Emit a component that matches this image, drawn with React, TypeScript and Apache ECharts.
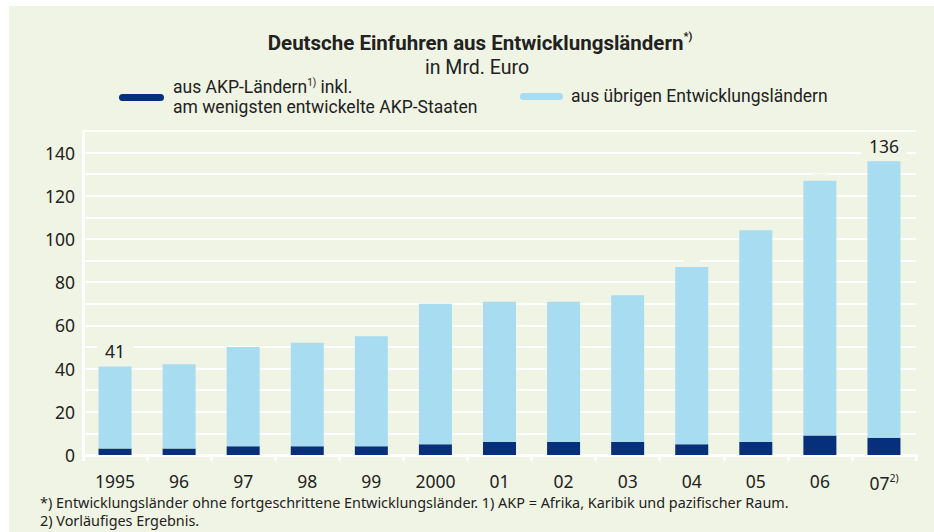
import React, { useEffect, useRef } from 'react';
import * as echarts from 'echarts';

const categories = ['1995', '96', '97', '98', '99', '2000', '01', '02', '03', '04', '05', '06', '07'];
const akpValues = [3, 3, 4, 4, 4, 5, 6, 6, 6, 5, 6, 9, 8];
const otherValues = [38, 39, 46, 48, 51, 65, 65, 65, 68, 82, 98, 118, 128];
const totalLabels: (number | null)[] = [41, null, null, null, null, null, null, null, null, null, null, null, 136];
const yTicks = [0, 20, 40, 60, 80, 100, 120, 140];

const BG = '#f0f4e4';
const DARK = '#06307c';
const LIGHT = '#a8dcf0';
const TEXT = '#222222';
const SANS = "'Noto Sans', 'Open Sans', sans-serif";
const COND = "Roboto, 'Noto Sans', sans-serif";

export default function App() {
  const ref = useRef<HTMLDivElement>(null);
  useEffect(() => {
    document.body.style.margin = '0';
    if (!ref.current) return;
    const chart = echarts.init(ref.current, undefined, { renderer: 'svg' });
    chart.setOption({
      animation: false,
      backgroundColor: '#ffffff',
      textStyle: { fontFamily: SANS },
      grid: { left: 83, right: 18, top: 131, bottom: 77 },
      graphic: [
        { type: 'rect', z: -10, silent: true, shape: { x: 9, y: 6, width: 925, height: 526 }, style: { fill: BG } },
        {
          type: 'text', x: 480, y: 43,
          style: {
            text: '{t|Deutsche Einfuhren aus Entwicklungsländern}{s|*)}',
            align: 'center', verticalAlign: 'middle',
            rich: {
              t: { fontFamily: COND, fontWeight: 'bold', fontSize: 20.5, fill: TEXT },
              s: { fontFamily: COND, fontWeight: 'bold', fontSize: 11, fill: TEXT, padding: [0, 0, 13, 0] },
            },
          },
        },
        {
          type: 'text', x: 477, y: 67,
          style: { text: 'in Mrd. Euro', align: 'center', verticalAlign: 'middle', fontFamily: COND, fontSize: 19.5, fill: TEXT },
        },
        { type: 'rect', shape: { x: 119, y: 94, width: 45, height: 7, r: 3.5 }, style: { fill: DARK } },
        {
          type: 'text', x: 173, y: 87,
          style: {
            text: '{t|aus AKP-Ländern}{s|1)}{t| inkl.}',
            verticalAlign: 'middle',
            rich: {
              t: { fontFamily: COND, fontSize: 17.5, fill: TEXT },
              s: { fontFamily: COND, fontSize: 10, fill: TEXT, padding: [0, 0, 10, 0] },
            },
          },
        },
        {
          type: 'text', x: 173, y: 107,
          style: { text: 'am wenigsten entwickelte AKP-Staaten', verticalAlign: 'middle', fontFamily: COND, fontSize: 17.5, fill: TEXT },
        },
        { type: 'rect', shape: { x: 520, y: 93, width: 43, height: 7, r: 3.5 }, style: { fill: LIGHT } },
        {
          type: 'text', x: 571, y: 96,
          style: { text: 'aus übrigen Entwicklungsländern', verticalAlign: 'middle', fontFamily: COND, fontSize: 17.5, fill: TEXT },
        },
        {
          type: 'text', x: 40, y: 502,
          style: {
            text: '*) Entwicklungsländer ohne fortgeschrittene Entwicklungsländer. 1) AKP = Afrika, Karibik und pazifischer Raum.',
            verticalAlign: 'middle', fontFamily: SANS, fontSize: 14.4, fill: TEXT,
          },
        },
        {
          type: 'text', x: 40, y: 520,
          style: { text: '2) Vorläufiges Ergebnis.', verticalAlign: 'middle', fontFamily: SANS, fontSize: 14.4, fill: TEXT },
        },
      ],
      xAxis: {
        type: 'category',
        data: categories,
        axisLine: { lineStyle: { color: '#ffffff', width: 3 } },
        axisTick: { show: true, interval: 0, length: 6, lineStyle: { color: '#ffffff', width: 3 } },
        axisLabel: {
          interval: 0,
          margin: 17,
          fontSize: 17.5,
          color: TEXT,
          fontFamily: SANS,
          formatter: (v: string) => (v === '07' ? '{m|07}{s|2)}' : '{m|' + v + '}'),
          rich: {
            m: { fontSize: 17.5, color: TEXT, fontFamily: SANS },
            s: { fontSize: 10.5, color: TEXT, fontFamily: SANS, padding: [0, 0, 10, 0] },
          },
        },
      },
      yAxis: {
        type: 'value',
        min: 0,
        max: 150,
        interval: 10,
        axisLine: { show: true, lineStyle: { color: '#ffffff', width: 3 } },
        axisTick: { show: false },
        splitLine: { lineStyle: { color: '#ffffff', width: 2 } },
        axisLabel: {
          margin: 8,
          fontSize: 17.5,
          color: TEXT,
          fontFamily: SANS,
          formatter: (v: number) => (yTicks.indexOf(v) >= 0 ? String(v) : ''),
        },
      },
      series: [
        {
          name: 'aus AKP-Ländern inkl. am wenigsten entwickelte AKP-Staaten',
          type: 'bar',
          stack: 'total',
          barWidth: 33,
          data: akpValues,
          itemStyle: { color: DARK },
        },
        {
          name: 'aus übrigen Entwicklungsländern',
          type: 'bar',
          stack: 'total',
          barWidth: 33,
          data: otherValues,
          itemStyle: { color: LIGHT },
          label: {
            show: true,
            position: 'top',
            distance: 5,
            fontSize: 17.5,
            color: TEXT,
            fontFamily: SANS,
            backgroundColor: BG,
            padding: [1, 8],
            formatter: (p: any) => {
              const t = totalLabels[p.dataIndex];
              return t == null ? '' : String(t);
            },
          },
        },
      ],
    });
    return () => chart.dispose();
  }, []);
  return <div ref={ref} style={{ width: 934, height: 532 }} />;
}
